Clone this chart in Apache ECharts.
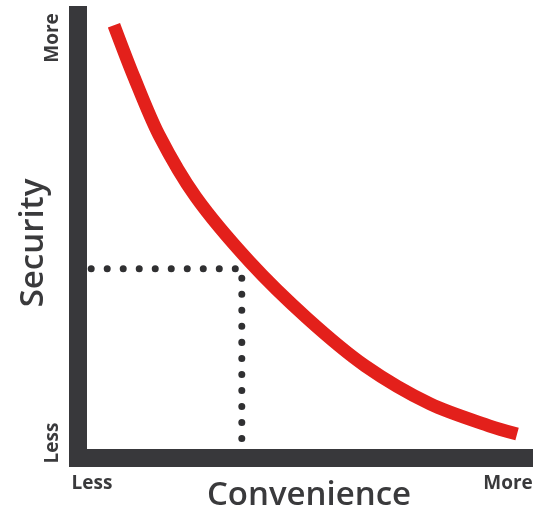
<!DOCTYPE html>
<html>
<head>
<meta charset="utf-8">
<script src="https://cdn.jsdelivr.net/npm/echarts@6/dist/echarts.min.js"></script>
<style>
    html, body { margin: 0; padding: 0; background: #fff; }
    #chart { width: 533px; height: 514px; }
</style>
</head>
<body>
<div id="chart"></div>
<script>
// curve (0..100 on both axes)
var curveX = [7.9, 12.3, 17.8, 25.9, 37.8, 50.3, 63.1, 77.4, 90.5, 96.5];
var curveY = [97.7, 86.0, 72.9, 58.9, 44.2, 31.6, 20.8, 12.2, 7.2, 5.4];
// dotted guide: from the y axis to the curve, then down to the x axis
var guideX = [2.9, 36.0, 36.0];
var guideY = [42.7, 42.7, 2.4];
var tickLabels = ['Less', 'More'];
var xName = 'Convenience';
var yName = 'Security';

var axisColor = '#38383b';
var textColor = '#3a3a3c';

var curveData = curveX.map(function (x, i) { return [x, curveY[i]]; });
var guideData = guideX.map(function (x, i) { return [x, guideY[i]]; });

var smallFont = { fontFamily: 'Open Sans', fontWeight: 700, fontSize: 19, fill: textColor, align: 'center', verticalAlign: 'middle' };
var bigFont = { fontFamily: 'Open Sans', fontWeight: 600, fontSize: 33, fill: textColor, align: 'center', verticalAlign: 'middle' };

function txt(s, x, y, rot, base) {
    var st = Object.assign({}, base, { text: s });
    return { type: 'text', x: x, y: y, rotation: rot, style: st, silent: true };
}

var option = {
    animation: false,
    backgroundColor: '#fff',
    grid: { left: 78, right: 0, top: 15, bottom: 56 },
    xAxis: {
        type: 'value', min: 0, max: 100,
        axisLine: { show: true, lineStyle: { color: axisColor, width: 18, cap: 'square' } },
        axisTick: { show: false }, axisLabel: { show: false }, splitLine: { show: false }
    },
    yAxis: {
        type: 'value', min: 0, max: 100,
        axisLine: { show: true, lineStyle: { color: axisColor, width: 18, cap: 'square' } },
        axisTick: { show: false }, axisLabel: { show: false }, splitLine: { show: false }
    },
    series: [
        {
            type: 'line',
            data: guideData,
            symbol: 'none',
            lineStyle: { color: '#303032', width: 7, type: [0.01, 16], cap: 'round' },
            z: 1
        },
        {
            type: 'line',
            data: curveData,
            smooth: 0.3,
            symbol: 'none',
            lineStyle: { color: '#e3201b', width: 13 },
            z: 2
        }
    ],
    graphic: [
        txt(tickLabels[1], 53, 38, Math.PI / 2, smallFont),
        txt(tickLabels[0], 53, 443, Math.PI / 2, smallFont),
        txt(yName, 34, 243, Math.PI / 2, bigFont),
        txt(tickLabels[0], 92, 484, 0, smallFont),
        txt(tickLabels[1], 508, 484, 0, smallFont),
        txt(xName, 309, 496, 0, bigFont)
    ]
};

var myChart = echarts.init(document.getElementById('chart'));
myChart.setOption(option);
</script>
</body>
</html>
